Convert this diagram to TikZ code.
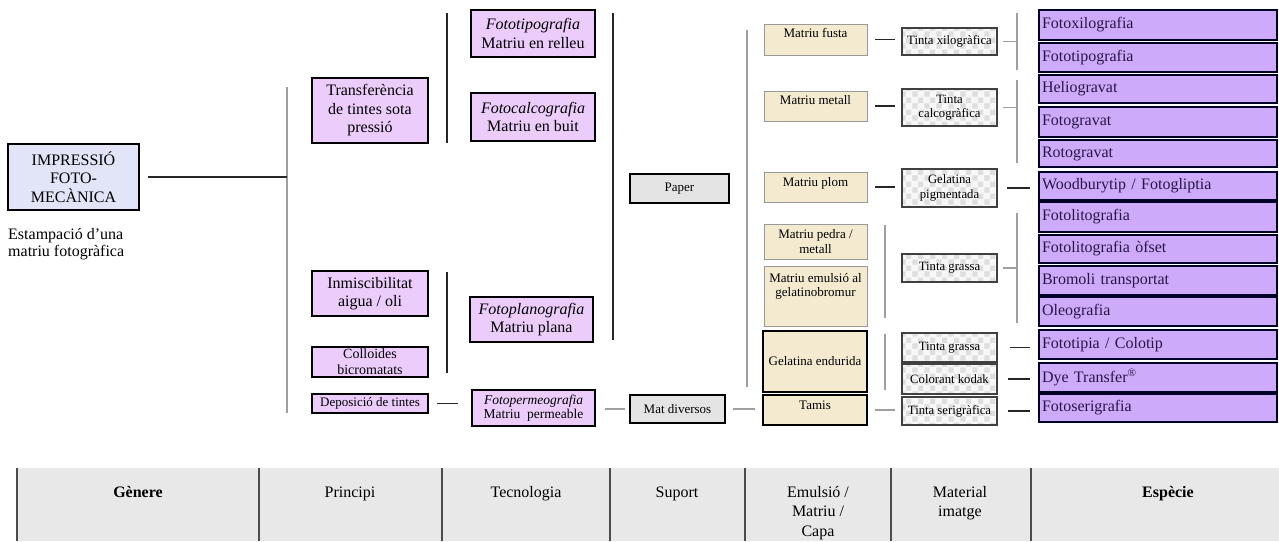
\documentclass[tikz,border=0pt]{standalone}
\usepackage{fontspec}
\setmainfont{Liberation Serif}
\usetikzlibrary{patterns}
\pgfdeclarepatternformonly{bigcheck}{\pgfqpoint{0pt}{0pt}}{\pgfqpoint{12pt}{12pt}}{\pgfqpoint{12pt}{12pt}}{%
  \pgfpathrectangle{\pgfqpoint{0.5pt}{0.5pt}}{\pgfqpoint{5.5pt}{5.5pt}}%
  \pgfpathrectangle{\pgfqpoint{6.5pt}{6.5pt}}{\pgfqpoint{5.5pt}{5.5pt}}%
  \pgfusepath{fill}}
\definecolor{impfill}{RGB}{226,229,248}
\definecolor{pinkb}{RGB}{236,204,250}
\definecolor{specfill}{RGB}{206,170,250}
\definecolor{spectext}{RGB}{40,22,72}
\definecolor{beige}{RGB}{243,234,208}
\definecolor{suppfill}{RGB}{228,228,228}
\definecolor{tabfill}{RGB}{232,232,232}
\definecolor{checkc}{RGB}{222,222,222}
\newcommand\fntA{\fontsize{16}{18.5}\selectfont}
\newcommand\fntB{\fontsize{13}{15}\selectfont}
\newcommand\fntC{\fontsize{12.7}{14.5}\selectfont}
\newcommand\fntD{\fontsize{16}{19.5}\selectfont}
\newcommand\toptab[1]{\begin{tabular}[t]{@{}c@{}}#1\end{tabular}}
\tikzset{
  x=1pt, y=-1pt,
  bx/.style={inner sep=0pt, outer sep=0pt, anchor=north west, align=center},
  impbox/.style={bx, draw=black, line width=2.2pt, fill=impfill, font=\fntA},
  pinkbox/.style={bx, draw=black, line width=1.4pt, fill=pinkb, font=\fntA},
  suppbox/.style={bx, draw=black, line width=1.8pt, fill=suppfill, font=\fntB},
  emubox/.style={bx, draw=gray!80, line width=0.9pt, fill=beige, font=\fntB},
  emuboxk/.style={bx, draw=black, line width=1.6pt, fill=beige, font=\fntB},
  matbox/.style={bx, draw=black!75, line width=1.3pt, preaction={fill=white!97!black},
    pattern=bigcheck, pattern color=checkc, font=\fntC},
  specbox/.style={bx, draw=black!85!blue, line width=1.5pt, fill=specfill,
    text=spectext, font=\fntA, minimum width=238pt, text width=232pt,
    inner xsep=3pt, align=left},
  ln/.style={draw=black!85, line width=1.1pt},
  lg/.style={draw=gray!75, line width=1.1pt},
  tabline/.style={draw=black!70, line width=1.2pt},
  th/.style={inner sep=0pt, anchor=base, font=\fntD},
}
\begin{document}
\begin{tikzpicture}
\useasboundingbox (0,0) rectangle (1279,541);
\fill[white] (0,0) rectangle (1279,541);

% ---------- Gènere ----------
\node[impbox, minimum width=131pt, minimum height=66pt] (imp) at (8,144)
  {IMPRESSIÓ\\FOTO-\\MECÀNICA};
\node[inner sep=0pt, anchor=north west, align=left, font=\fontsize{16}{17}\selectfont] (est) at (8,228)
  {Estampació d’una\\matriu fotogràfica};

% ---------- Principi ----------
\node[pinkbox, minimum width=116pt, minimum height=65pt] (tra) at (312,78)
  {Transferència\\de tintes sota\\pressió};
\node[pinkbox, minimum width=116pt, minimum height=45pt] (inm) at (312,271)
  {Inmiscibilitat\\aigua / oli};
\node[pinkbox, minimum width=116pt, minimum height=30pt, font=\fontsize{14}{16}\selectfont] (col) at (312,347)
  {Colloides\\bicromatats};
\node[pinkbox, minimum width=116pt, minimum height=19pt, font=\fntB] (dep) at (312,394)
  {Deposició de tintes};

% ---------- Tecnologia ----------
\node[pinkbox, minimum width=124pt, minimum height=47pt] (ftip) at (471,10)
  {\textit{Fototipografia}\\Matriu en relleu};
\node[pinkbox, minimum width=124pt, minimum height=48pt] (fcal) at (471,93)
  {\textit{Fotocalcografia}\\Matriu en buit};
\node[pinkbox, minimum width=123pt, minimum height=45pt] (fpla) at (470,297)
  {\textit{Fotoplanografia}\\Matriu plana};
\node[pinkbox, minimum width=123pt, minimum height=36pt, font=\fontsize{13.5}{14.5}\selectfont] (fper) at (472,390)
  {\textit{Fotopermeografia}\\Matriu\ \ permeable};

% ---------- Suport ----------
\node[suppbox, minimum width=99pt, minimum height=29pt] (paper) at (630,174) {Paper};
\node[suppbox, minimum width=95pt, minimum height=28pt] (matd) at (630,395) {Mat diversos};

% ---------- Emulsió / Matriu / Capa ----------
\node[emubox, minimum width=103pt, text height=13pt, text depth=18pt] (mfus) at (764,24) {Matriu fusta};
\node[emubox, minimum width=103pt, text height=13pt, text depth=17pt] (mmet) at (764,91) {Matriu metall};
\node[emubox, minimum width=103pt, text height=14pt, text depth=16pt] (mplo) at (764,172) {Matriu plom};
\node[emubox, minimum width=103pt, minimum height=35pt, font=\fontsize{13}{14.5}\selectfont] (mped) at (764,224)
  {Matriu pedra /\\metall};
\node[emubox, minimum width=103pt, text height=16pt, text depth=44pt, font=\fontsize{13}{14}\selectfont] (memu) at (764,266)
  {\toptab{Matriu emulsió al\\gelatinobromur}};
\node[emuboxk, minimum width=104pt, minimum height=61pt] (gend) at (763,331) {Gelatina endurida};
\node[emuboxk, minimum width=104pt, text height=14pt, text depth=16pt] (tamis) at (763,395) {Tamis};

% ---------- Material imatge ----------
\node[matbox, minimum width=95pt, minimum height=27pt] (txil) at (902,28) {Tinta xilogràfica};
\node[matbox, minimum width=95pt, minimum height=37pt] (tcal) at (902,89) {Tinta\\calcogràfica};
\node[matbox, minimum width=95pt, minimum height=38pt] (gpig) at (902,169) {Gelatina\\pigmentada};
\node[matbox, minimum width=95pt, minimum height=28pt] (tgr1) at (902,254) {Tinta grassa};
\node[matbox, minimum width=95pt, minimum height=29pt] (tgr2) at (902,333) {Tinta grassa};
\node[matbox, minimum width=95pt, minimum height=30pt] (ckod) at (902,364) {Colorant kodak};
\node[matbox, minimum width=95pt, minimum height=28pt] (tser) at (902,397) {Tinta serigràfica};

% ---------- Espècie ----------
\node[specbox, minimum height=30pt] (s1) at (1039,10) {Fotoxilografia};
\node[specbox, minimum height=29pt] (s2) at (1039,43) {Fototipografia};
\node[specbox, minimum height=28pt] (s3) at (1039,75) {Heliogravat};
\node[specbox, minimum height=30pt] (s4) at (1039,107) {Fotogravat};
\node[specbox, minimum height=27pt] (s5) at (1039,140) {Rotogravat};
\node[specbox, minimum height=28pt] (s6) at (1039,172) {Woodburytip / Fotogliptia};
\node[specbox, minimum height=30pt] (s7) at (1039,202) {Fotolitografia};
\node[specbox, minimum height=28pt] (s8) at (1039,235) {Fotolitografia òfset};
\node[specbox, minimum height=29pt] (s9) at (1039,266) {Bromoli transportat};
\node[specbox, minimum height=29pt] (s10) at (1039,297) {Oleografia};
\node[specbox, minimum height=29pt] (s11) at (1039,330) {Fototipia / Colotip};
\node[specbox, minimum height=29pt] (s12) at (1039,363) {Dye Transfer\textsuperscript{®}};
\node[specbox, minimum height=28pt] (s13) at (1039,394) {Fotoserigrafia};

% ---------- bracket coordinates ----------
\coordinate (v1t) at (287,87);   \coordinate (v1b) at (287,413);
\coordinate (v2t) at (447,13);   \coordinate (v2b) at (447,143);
\coordinate (v3t) at (447,272);  \coordinate (v3b) at (447,373);
\coordinate (v4t) at (613,13);   \coordinate (v4b) at (613,340);
\coordinate (v5t) at (747,30);   \coordinate (v5b) at (747,387);
\coordinate (v6t) at (885,225);  \coordinate (v6b) at (885,318);
\coordinate (v7t) at (885,334);  \coordinate (v7b) at (885,390);
\coordinate (b1t) at (1017,13);  \coordinate (b1b) at (1017,70);
\coordinate (b2t) at (1017,80);  \coordinate (b2b) at (1017,163);
\coordinate (b3t) at (1017,213); \coordinate (b3b) at (1017,323);

\draw[lg] (v1t) -- (v1b);
\draw[ln] (v2t) -- (v2b);
\draw[ln] (v3t) -- (v3b);
\draw[ln] (v4t) -- (v4b);
\draw[lg] (v5t) -- (v5b);
\draw[lg] (v6t) -- (v6b);
\draw[lg] (v7t) -- (v7b);
\draw[lg] (b1t) -- (b1b);
\draw[lg] (b2t) -- (b2b);
\draw[lg] (b3t) -- (b3b);

% ---------- connectors ----------
\draw[ln, shorten <=9pt] (imp.east) -- (imp.east -| v1t);
\draw[ln, shorten <=9pt, shorten >=14pt] (dep.east) -- (dep.east -| fper.west);
\draw[lg, shorten <=10pt, shorten >=5pt] (fper.east |- matd.west) -- (matd.west);
\draw[lg, shorten <=8pt, shorten >=8pt] (matd.east) -- (matd.east -| tamis.west);
\draw[ln, shorten <=8pt, shorten >=7pt] (mfus.east) -- (mfus.east -| txil.west);
\draw[ln, shorten <=8pt, shorten >=7pt] (mmet.east) -- (mmet.east -| tcal.west);
\draw[ln, shorten <=8pt, shorten >=7pt] (mplo.east) -- (mplo.east -| gpig.west);
\draw[lg, shorten <=8pt, shorten >=7pt] (tamis.east) -- (tamis.east -| tser.west);
\draw[lg, shorten <=6pt] (txil.east) -- (txil.east -| b1t);
\draw[lg, shorten <=6pt] (tcal.east) -- (tcal.east -| b2t);
\draw[lg, shorten <=6pt] (tgr1.east) -- (tgr1.east -| b3t);
\draw[ln, shorten <=10pt, shorten >=9pt] (gpig.east) -- (gpig.east -| s6.west);
\draw[ln, shorten <=13pt, shorten >=9pt] (tgr2.east) -- (tgr2.east -| s11.west);
\draw[ln, shorten <=11pt, shorten >=9pt] (ckod.east) -- (ckod.east -| s12.west);
\draw[ln, shorten <=11pt, shorten >=9pt] (tser.east) -- (tser.east -| s13.west);

% ---------- table ----------
\fill[tabfill] (17,468) rectangle (1279,541);
\foreach \xx in {17,259,442,610,745,891,1031}
  \draw[tabline] (\xx,468) -- (\xx,541);
\node[th] (h1) at (138,497) {\textbf{Gènere}};
\node[th] (h2) at (350,497) {Principi};
\node[th] (h3) at (526,497) {Tecnologia};
\node[th] (h4) at (677,497) {Suport};
\node[th] (h5) at (818,497) {\toptab{Emulsió /\\Matriu /\\Capa}};
\node[th] (h6) at (960,497) {\toptab{Material\\imatge}};
\node[th] (h7) at (1168,497) {\textbf{Espècie}};
\end{tikzpicture}
\end{document}
